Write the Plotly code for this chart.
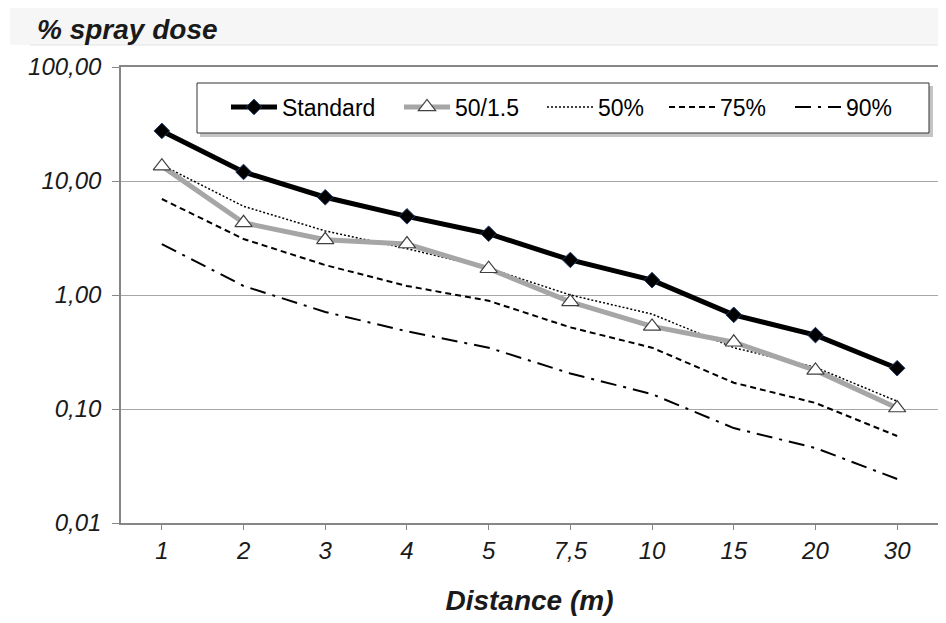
import plotly.graph_objects as go

distance_labels = ["1", "2", "3", "4", "5", "7,5", "10", "15", "20", "30"]
standard = [27.5, 12.0, 7.2, 4.9, 3.45, 2.03, 1.35, 0.67, 0.445, 0.228]
p50_15 = [13.5, 4.3, 3.05, 2.8, 1.7, 0.87, 0.53, 0.385, 0.218, 0.102]
p50 = [13.8, 6.0, 3.65, 2.55, 1.72, 1.0, 0.68, 0.345, 0.232, 0.117]
p75 = [6.95, 3.1, 1.83, 1.2, 0.89, 0.52, 0.345, 0.17, 0.113, 0.058]
p90 = [2.8, 1.2, 0.71, 0.48, 0.345, 0.205, 0.135, 0.068, 0.0455, 0.0243]
y_tickvals = [0.01, 0.1, 1, 10, 100]
y_ticktext = ["0,01", "0,10", "1,00", "10,00", "100,00"]

FONT = "Liberation Sans, Arial, sans-serif"
W, H = 946, 623
OFF = 8  # page body margin
ML, MR, MT, MB = 121 - OFF, W - (938 - OFF), 67 - OFF, H - (523 - OFF)
PW, PH = W - ML - MR, H - MT - MB


def px(sx):
    return (sx - OFF - ML) / PW


def py(sy):
    return (H - MB - (sy - OFF)) / PH


fig = go.Figure()

fig.add_trace(go.Scatter(
    x=distance_labels, y=p90, name="90%", mode="lines", legend="legend5",
    line=dict(color="black", width=2, dash="16px,7px,3px,7px")))
fig.add_trace(go.Scatter(
    x=distance_labels, y=p75, name="75%", mode="lines", legend="legend4",
    line=dict(color="black", width=2, dash="6px,4px")))
fig.add_trace(go.Scatter(
    x=distance_labels, y=p50, name="50%", mode="lines", legend="legend3",
    line=dict(color="black", width=1.5, dash="2px,2px")))
fig.add_trace(go.Scatter(
    x=distance_labels, y=p50_15, name="50/1.5", mode="lines+markers", legend="legend2",
    line=dict(color="#a6a6a6", width=5),
    marker=dict(symbol="triangle-up", size=15, color="white",
                line=dict(color="#404040", width=1.2))))
fig.add_trace(go.Scatter(
    x=distance_labels, y=standard, name="Standard", mode="lines+markers", legend="legend",
    line=dict(color="black", width=5),
    marker=dict(symbol="diamond", size=12, color="black",
                line=dict(color="#1f3864", width=1))))

legend_text_left = {"legend": 282, "legend2": 455, "legend3": 598, "legend4": 720, "legend5": 846}
ITEMW = 46
legends = {}
for key, tl in legend_text_left.items():
    legends[key] = dict(
        x=px(tl - ITEMW - 10), xanchor="left", y=py(107), yanchor="middle",
        bgcolor="rgba(0,0,0,0)", borderwidth=0, itemwidth=ITEMW,
        font=dict(family=FONT, size=23, color="black"))

fig.update_layout(
    width=W, height=H,
    margin=dict(l=ML, r=MR, t=MT, b=MB),
    paper_bgcolor="white", plot_bgcolor="white",
    font=dict(family=FONT, size=24, color="#1a1a1a"),
    title=dict(text="<b><i>% spray dose</i></b>", x=(37 - OFF) / W, xref="container", xanchor="left",
               y=1 - (29 - OFF) / H, yref="container", yanchor="middle",
               font=dict(family=FONT, size=28, color="#1a1a1a")),
    showlegend=True,
    shapes=[
        dict(type="rect", xref="paper", yref="paper", layer="below",
             x0=px(10), x1=px(960), y0=py(45), y1=py(8),
             fillcolor="#f6f6f6", line=dict(width=0)),
        dict(type="line", xref="paper", yref="paper", layer="below",
             x0=px(30), x1=px(960), y0=py(45), y1=py(45),
             line=dict(color="#e4e4e4", width=1)),
        # legend frame with soft shadow
        dict(type="rect", xref="paper", yref="paper", layer="above",
             x0=px(200), x1=px(933), y0=py(137), y1=py(86),
             fillcolor="#c4c4c4", line=dict(width=0)),
        dict(type="rect", xref="paper", yref="paper", layer="above",
             x0=px(197), x1=px(929), y0=py(133), y1=py(83),
             fillcolor="white", line=dict(color="#333333", width=1)),
    ],
    **legends,
)

fig.update_xaxes(
    type="category", categoryorder="array", categoryarray=distance_labels,
    range=[-0.5, 9.5],
    showline=True, linecolor="#868686", linewidth=1.5, mirror=True,
    ticks="outside", ticklen=5, tickcolor="#868686",
    showgrid=False,
    tickfont=dict(family=FONT, size=24, color="#1a1a1a", style="italic"),
    ticklabelstandoff=0,
    title=dict(text="<b><i>Distance (m)</i></b>", font=dict(family=FONT, size=28, color="#1a1a1a"),
               standoff=28),
)
fig.update_yaxes(
    type="log", range=[-2, 2],
    tickvals=y_tickvals, ticktext=y_ticktext,
    showline=True, linecolor="#868686", linewidth=1.5, mirror=True,
    ticks="outside", ticklen=7, tickcolor="#868686",
    showgrid=True, gridcolor="#a6a6a6", gridwidth=1.3,
    tickfont=dict(family=FONT, size=24, color="#1a1a1a", style="italic"),
    ticklabelstandoff=6,
)

fig.write_html("out.html")
